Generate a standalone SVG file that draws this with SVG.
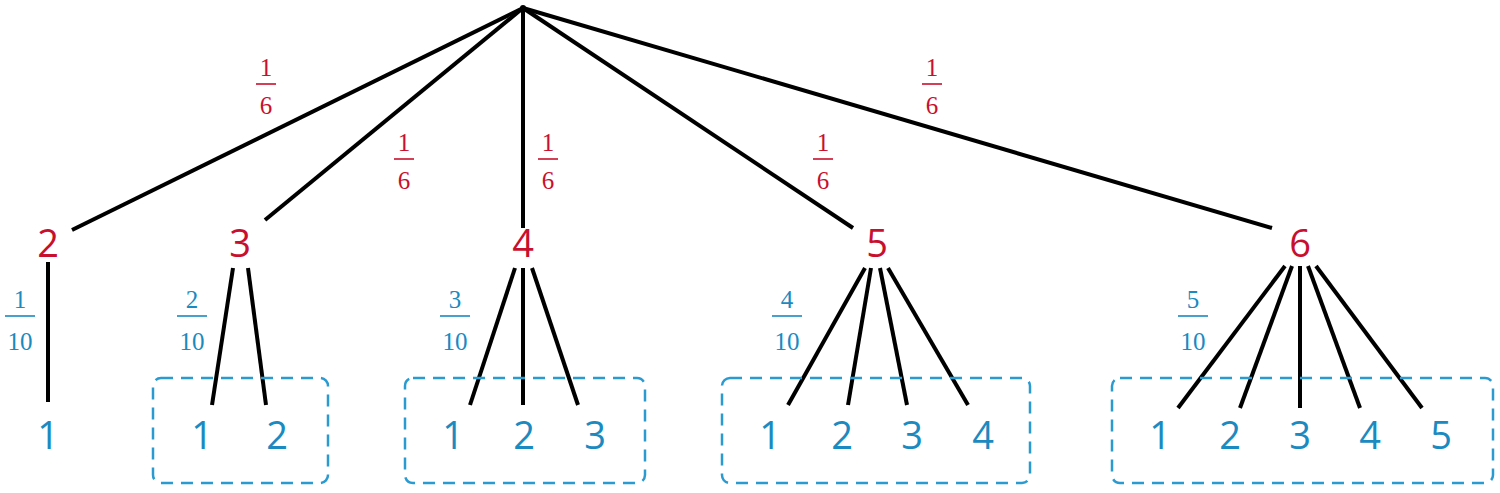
<svg xmlns="http://www.w3.org/2000/svg" width="1500" height="493" viewBox="0 0 1500 493">
<style>
.e{stroke:#000;stroke-width:4;fill:none}
.n{font-family:"Open Sans","DejaVu Sans",sans-serif;font-size:38px;text-anchor:middle}
.r{fill:#c8102e}
.b{fill:#1a8ac0}
.f{font-family:"Liberation Serif",serif;font-size:25px;text-anchor:middle}
.bar{stroke-width:1.6}
.box{fill:none;stroke:#2a9ad0;stroke-width:2.5;stroke-dasharray:12 8}
</style>
<rect width="1500" height="493" fill="#fff"/>
<g id="connectors">
<line class="e" x1="523" y1="8" x2="72" y2="230"/>
<line class="e" x1="523" y1="8" x2="265" y2="220"/>
<line class="e" x1="523" y1="8" x2="523" y2="228"/>
<line class="e" x1="523" y1="8" x2="853" y2="228"/>
<line class="e" x1="523" y1="8" x2="1272" y2="228"/>
<line class="e" x1="48" y1="262" x2="48" y2="402"/>
<line class="e" x1="233" y1="268" x2="212" y2="405"/>
<line class="e" x1="248" y1="268" x2="266" y2="405"/>
<line class="e" x1="515" y1="268" x2="470" y2="405"/>
<line class="e" x1="523" y1="268" x2="523" y2="405"/>
<line class="e" x1="532" y1="268" x2="578" y2="405"/>
<line class="e" x1="865" y1="268" x2="788" y2="405"/>
<line class="e" x1="871" y1="268" x2="848" y2="405"/>
<line class="e" x1="880" y1="268" x2="907" y2="405"/>
<line class="e" x1="888" y1="268" x2="968" y2="405"/>
<line class="e" x1="1285" y1="266" x2="1178" y2="408"/>
<line class="e" x1="1292" y1="266" x2="1240" y2="408"/>
<line class="e" x1="1300" y1="266" x2="1300" y2="408"/>
<line class="e" x1="1308" y1="266" x2="1360" y2="408"/>
<line class="e" x1="1316" y1="266" x2="1422" y2="408"/>
</g>
<g id="root"><circle cx="523" cy="8" r="3" fill="#000"/></g>
<g id="labels-red">
<g><text class="f r" x="266" y="76">1</text><line class="bar" stroke="#c8102e" x1="256" y1="84" x2="276" y2="84"/><text class="f r" x="266" y="114">6</text></g>
<g><text class="f r" x="404" y="151">1</text><line class="bar" stroke="#c8102e" x1="394" y1="159" x2="414" y2="159"/><text class="f r" x="404" y="189">6</text></g>
<g><text class="f r" x="548" y="151">1</text><line class="bar" stroke="#c8102e" x1="538" y1="159" x2="558" y2="159"/><text class="f r" x="548" y="189">6</text></g>
<g><text class="f r" x="823" y="151">1</text><line class="bar" stroke="#c8102e" x1="813" y1="159" x2="833" y2="159"/><text class="f r" x="823" y="189">6</text></g>
<g><text class="f r" x="932" y="76">1</text><line class="bar" stroke="#c8102e" x1="922" y1="84" x2="942" y2="84"/><text class="f r" x="932" y="114">6</text></g>
</g>
<g id="labels-blue">
<g><text class="f b" x="20" y="308">1</text><line class="bar" stroke="#1a8ac0" x1="5" y1="316" x2="35" y2="316"/><text class="f b" x="20" y="350">10</text></g>
<g><text class="f b" x="192" y="308">2</text><line class="bar" stroke="#1a8ac0" x1="177" y1="316" x2="207" y2="316"/><text class="f b" x="192" y="350">10</text></g>
<g><text class="f b" x="455" y="308">3</text><line class="bar" stroke="#1a8ac0" x1="440" y1="316" x2="470" y2="316"/><text class="f b" x="455" y="350">10</text></g>
<g><text class="f b" x="787" y="308">4</text><line class="bar" stroke="#1a8ac0" x1="772" y1="316" x2="802" y2="316"/><text class="f b" x="787" y="350">10</text></g>
<g><text class="f b" x="1193" y="308">5</text><line class="bar" stroke="#1a8ac0" x1="1178" y1="316" x2="1208" y2="316"/><text class="f b" x="1193" y="350">10</text></g>
</g>
<g id="n2"><text class="n r" x="48" y="257">2</text></g>
<g id="n3"><text class="n r" x="240" y="257">3</text></g>
<g id="n4"><text class="n r" x="523" y="257">4</text></g>
<g id="n5"><text class="n r" x="877" y="257">5</text></g>
<g id="n6"><text class="n r" x="1300" y="257">6</text></g>
<g id="box2"><rect class="box" x="153" y="378" width="175" height="105" rx="8"/></g>
<g id="box3"><rect class="box" x="405" y="378" width="240" height="105" rx="8"/></g>
<g id="box4"><rect class="box" x="722" y="378" width="308" height="105" rx="8"/></g>
<g id="box5"><rect class="box" x="1112" y="378" width="381" height="105" rx="8"/></g>
<g id="leaves">
<text class="n b" x="48" y="449">1</text>
<text class="n b" x="202" y="449">1</text><text class="n b" x="277" y="449">2</text>
<text class="n b" x="453" y="449">1</text><text class="n b" x="524" y="449">2</text><text class="n b" x="595" y="449">3</text>
<text class="n b" x="770" y="449">1</text><text class="n b" x="842" y="449">2</text><text class="n b" x="912" y="449">3</text><text class="n b" x="983" y="449">4</text>
<text class="n b" x="1160" y="449">1</text><text class="n b" x="1230" y="449">2</text><text class="n b" x="1300" y="449">3</text><text class="n b" x="1370" y="449">4</text><text class="n b" x="1441" y="449">5</text>
</g>
</svg>
